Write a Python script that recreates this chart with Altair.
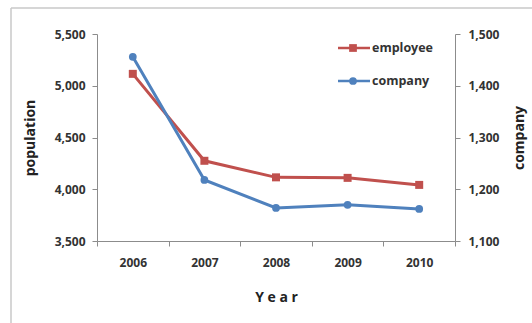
import altair as alt
import pandas as pd

# ---- data ----
years = ["2006", "2007", "2008", "2009", "2010"]
employee = [5115, 4275, 4115, 4110, 4042]
company = [1456, 1218, 1164, 1170, 1162]
series_names = ["employee", "company"]

RED = "#c0504d"
BLUE = "#4f81bd"
FONT = "Open Sans"
TXT = "#333333"
AXC = "#8c8c8c"

df_e = pd.DataFrame({"Year": years, "population": employee, "series": "employee"})
df_c = pd.DataFrame({"Year": years, "company": company, "series": "company"})
df_leg = pd.DataFrame({"series": series_names})

color = alt.Color("series:N",
                  scale=alt.Scale(domain=series_names, range=[RED, BLUE]),
                  legend=None)
shape = alt.Shape("series:N",
                  scale=alt.Scale(domain=series_names, range=["square", "circle"]),
                  legend=None)

x_enc = alt.X("Year:N",
              scale=alt.Scale(type="band", paddingInner=0, paddingOuter=0),
              axis=alt.Axis(title="Y e a r", tickBand="extent", labelAngle=0,
                            labelPadding=11, titlePadding=22, titleFontSize=14,
                            labelFontSize=12))

y_left = alt.Y("population:Q",
               scale=alt.Scale(domain=[3500, 5500], nice=False, zero=False),
               axis=alt.Axis(title="population", orient="left",
                             values=[3500, 4000, 4500, 5000, 5500], format=",.0f",
                             labelPadding=7, titlePadding=17))
y_right = alt.Y("company:Q",
                scale=alt.Scale(domain=[1100, 1500], nice=False, zero=False),
                axis=alt.Axis(title="company", orient="right", titleAngle=270,
                              values=[1100, 1200, 1300, 1400, 1500], format=",.0f",
                              labelPadding=8, titlePadding=28))

base_e = alt.Chart(df_e).encode(x=x_enc, y=y_left, color=color)
emp = alt.layer(
    base_e.mark_line(strokeWidth=3),
    base_e.mark_point(filled=True, size=64, opacity=1).encode(shape=shape),
)

base_c = alt.Chart(df_c).encode(x=x_enc, y=y_right, color=color)
comp = alt.layer(
    base_c.mark_line(strokeWidth=3),
    base_c.mark_point(filled=True, size=60, opacity=1).encode(shape=shape),
)

# custom in-plot legend (line through marker + label)
leg_y = alt.Y("series:N", scale=alt.Scale(type="point", domain=series_names,
                                          range=[14, 47], padding=0), axis=None)
leg_base = alt.Chart(df_leg).encode(y=leg_y, color=color)
legend = alt.layer(
    leg_base.mark_rule(strokeWidth=2.5).encode(x=alt.value(241), x2=alt.value(273)),
    leg_base.mark_point(filled=True, size=60, opacity=1).encode(x=alt.value(256), shape=shape),
    leg_base.mark_text(align="left", baseline="middle", font=FONT, fontSize=12.5,
                       fontWeight="bold", color=TXT)
            .encode(x=alt.value(275), text="series:N", color=alt.value(TXT)),
)

# light frame around the chart (top and left edges as in the reference)
frame = alt.layer(
    alt.Chart(df_leg.head(1)).mark_rule(color="#c8c8c8", strokeWidth=1.5).encode(
        x=alt.value(-86), x2=alt.value(440), y=alt.value(-26)),
    alt.Chart(df_leg.head(1)).mark_rule(color="#c8c8c8", strokeWidth=1.5).encode(
        x=alt.value(-86), y=alt.value(-26), y2=alt.value(295)),
)

chart = alt.layer(emp, comp, legend, frame).resolve_scale(
    y="independent"
).properties(
    width=358, height=207,
    autosize=alt.AutoSizeParams(type="none"),
    padding={"left": 97, "top": 34, "right": 77, "bottom": 82},
    background="white",
).configure_view(stroke=None).configure_axis(
    labelFont=FONT, labelFontWeight="bold", labelFontSize=12, labelColor=TXT,
    titleFont=FONT, titleFontWeight="bold", titleFontSize=14, titleColor="#222222",
    domainColor=AXC, tickColor=AXC, tickSize=5, grid=False, domainWidth=1,
)

chart.save("out.html", embed_options={"renderer": "svg", "actions": False})
